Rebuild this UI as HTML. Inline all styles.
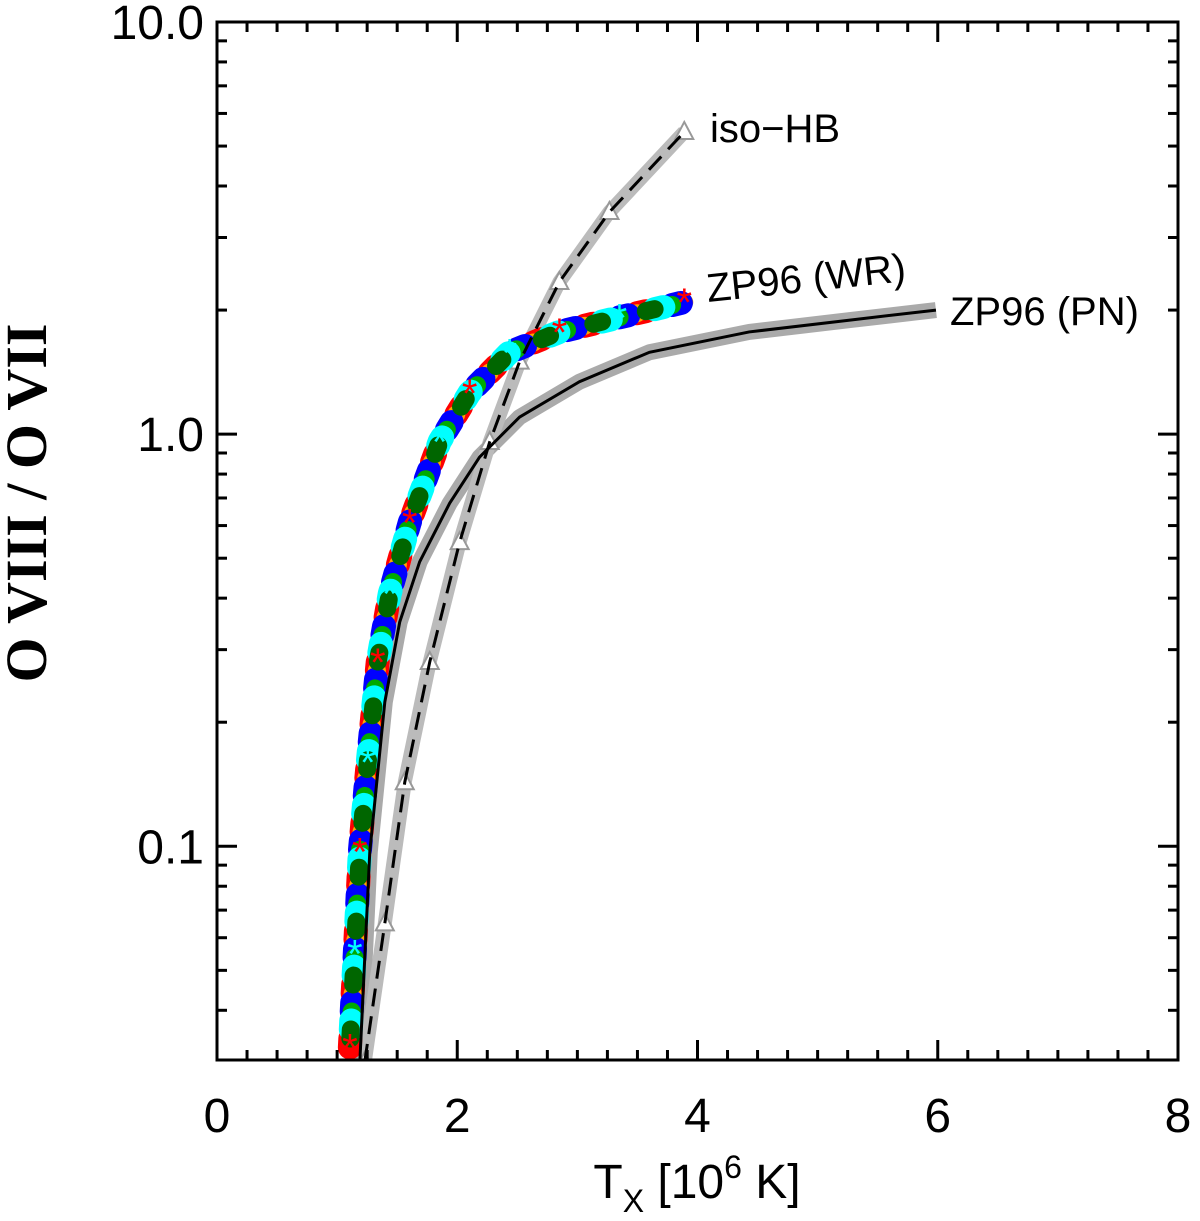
<!DOCTYPE html>
<html><head><meta charset="utf-8"><style>
body{margin:0;background:#fff}
svg text{font-family:"Liberation Sans",sans-serif}
</style></head><body>
<svg id="chart" width="1200" height="1216" viewBox="0 0 1200 1216" xmlns="http://www.w3.org/2000/svg">
<defs><clipPath id="clip"><rect x="217" y="22" width="961" height="1038"/></clipPath></defs>
<g id="marks" clip-path="url(#clip)"></g>
<rect x="217" y="22" width="961" height="1038" fill="none" stroke="#000" stroke-width="3"/>
<g id="ticks"></g>
<text x="697" y="1198" font-size="48" text-anchor="middle">T<tspan font-size="32" dy="14">X</tspan><tspan dy="-14"> [10</tspan><tspan font-size="32" dy="-20">6</tspan><tspan dy="20"> K]</tspan></text>
<text transform="translate(46,503) rotate(-90)" font-size="58" font-weight="bold" text-anchor="middle" style="font-family:'Liberation Serif',serif">O VIII / O VII</text>
<text x="710" y="142" font-size="40">iso−HB</text>
<text x="708" y="302" font-size="40" transform="rotate(-6 708 302)">ZP96 (WR)</text>
<text x="950" y="325" font-size="40">ZP96 (PN)</text>
</svg>
<script>
const xTicks=[0,2,4,6,8];
const yTicks=[0.1,1,10];
const yTickLabels=["0.1","1.0","10.0"];
const wrT=[1.106,1.147,1.189,1.255,1.338,1.438,1.604,1.854,2.103,2.436,2.85,3.35,3.89];
const wrV=[0.0325,0.055,0.097,0.16,0.28,0.41,0.61,0.96,1.26,1.58,1.77,1.92,2.09];
const pnT=[1.189,1.272,1.397,1.521,1.687,1.937,2.186,2.519,3.017,3.60,4.43,5.26,5.985];
const pnV=[0.030,0.097,0.224,0.35,0.49,0.68,0.88,1.10,1.34,1.58,1.77,1.89,2.0];
const hbT=[1.23,1.397,1.563,1.771,2.02,2.27,2.519,2.85,3.267,3.89];
const hbV=[0.030,0.065,0.143,0.28,0.547,0.957,1.50,2.34,3.46,5.41];
const X0=217,X1=1178,Y0=1060,Y1=22,LMIN=Math.log10(0.0303),LMAX=1;
function xs(t){return X0+(t-0)/8*(X1-X0);}
function ys(v){return Y0-(Math.log10(v)-LMIN)/(LMAX-LMIN)*(Y0-Y1);}
const NS="http://www.w3.org/2000/svg";
const marks=document.getElementById('marks'),ticks=document.getElementById('ticks');
function mk(tag,attrs,parent){const e=document.createElementNS(NS,tag);for(const k in attrs)e.setAttribute(k,attrs[k]);parent.appendChild(e);return e;}
function pts(T,V){return T.map((t,i)=>xs(t)+','+ys(V[i])).join(' ');}
let g1=mk('polyline',{points:pts(pnT,pnV),fill:'none',stroke:'#aaa','stroke-width':16,'stroke-linejoin':'round'},marks);


let g2=mk('polyline',{points:pts(hbT,hbV),fill:'none',stroke:'#bbb','stroke-width':14,'stroke-linejoin':'round'},marks);


hbT.forEach((t,i)=>{const x=xs(t),y=ys(hbV[i]);
 const tr=mk('polygon',{points:`${x},${y-10} ${x-9},${y+7} ${x+9},${y+7}`,fill:'#fff',stroke:'#999','stroke-width':2},marks);
 
 });
// WR band: mottled multi-colour stroke
const cols=['#f00','#ffa500','#00f','#0a0','#0ff','#060'];
cols.forEach((c,i)=>{
 const s=mk('polyline',{points:pts(wrT,wrV),fill:'none',stroke:c,'stroke-width':i%2?18:24,'stroke-linejoin':'round','stroke-linecap':'round','stroke-dasharray':'9,45','stroke-dashoffset':i*9},marks);
 
 
});
wrT.forEach((t,i)=>{const x=xs(t),y=ys(wrV[i]);
 const m=mk('text',{x:x,y:y+14,'font-size':40,'text-anchor':'middle',fill:i%2?'#0ff':'#f00'},marks);
 m.textContent='*';
 
 });
let l1=mk('polyline',{points:pts(pnT,pnV),fill:'none',stroke:'#000','stroke-width':3},marks);


let l2=mk('polyline',{points:pts(hbT,hbV),fill:'none',stroke:'#000','stroke-width':3,'stroke-dasharray':'18,10'},marks);


for(let t=0;t<=8.001;t+=0.25){const x=xs(t);const major=Math.abs(t-Math.round(t/2)*2)<1e-6;const L=major?20:10;
 mk('line',{x1:x,y1:Y0,x2:x,y2:Y0-L,stroke:'#000','stroke-width':3},ticks);
 mk('line',{x1:x,y1:Y1,x2:x,y2:Y1+L,stroke:'#000','stroke-width':3},ticks);}
xTicks.forEach(t=>{const e=mk('text',{x:xs(t),y:1132,'font-size':48,'text-anchor':'middle'},ticks);e.textContent=t;
 
 });
[0.01,0.1,1].forEach(d=>{for(let k=1;k<=9;k++){const v=d*k;if(v<0.0303||v>10)continue;const y=ys(v);const L=k===1?20:10;
 mk('line',{x1:X0,y1:y,x2:X0+L,y2:y,stroke:'#000','stroke-width':3},ticks);
 mk('line',{x1:X1,y1:y,x2:X1-L,y2:y,stroke:'#000','stroke-width':3},ticks);}});
yTicks.forEach((v,i)=>{const e=mk('text',{x:204,y:ys(v)+17,'font-size':48,'text-anchor':'end'},ticks);e.textContent=yTickLabels[i];
 
 });
</script>
</body></html>
